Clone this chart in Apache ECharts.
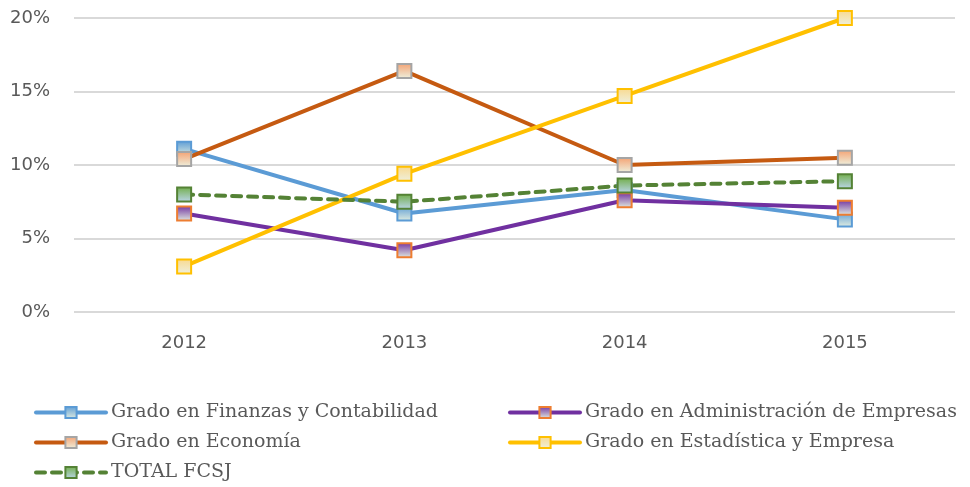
<!DOCTYPE html>
<html>
<head>
<meta charset="utf-8">
<script src="https://cdn.jsdelivr.net/npm/echarts@6/dist/echarts.min.js"></script>
<style>
  html, body { margin: 0; padding: 0; background: #fff; }
  #main { width: 970px; height: 487px; }
</style>
</head>
<body>
<div id="main"></div>
<script>
// datos (porcentaje)
var years = ["2012", "2013", "2014", "2015"];
var finanzas = [11.1, 6.7, 8.3, 6.3];
var administracion = [6.7, 4.2, 7.6, 7.1];
var economia = [10.4, 16.4, 10.0, 10.5];
var estadistica = [3.1, 9.4, 14.7, 20.0];
var totalFcsj = [8.0, 7.5, 8.6, 8.9];
var yTicks = [0, 5, 10, 15, 20];

var myChart = echarts.init(document.getElementById("main"));

function grad(top, bottom) {
  return new echarts.graphic.LinearGradient(0, 0, 0, 1, [
    { offset: 0, color: top },
    { offset: 1, color: bottom }
  ]);
}

function serie(name, data, lineColor, border, top, bottom, dashed) {
  return {
    name: name,
    type: "line",
    data: data,
    symbol: "rect",
    symbolSize: 14,
    showAllSymbol: true,
    lineStyle: { color: lineColor, width: 4, type: dashed ? [9, 7] : "solid", cap: "round" },
    itemStyle: { color: grad(top, bottom), borderColor: border, borderWidth: 2 },
    emphasis: { disabled: true }
  };
}

var legendText = { fontFamily: "DejaVu Serif", fontSize: 19, color: "#595959" };
var legendBase = {
  orient: "vertical", top: 403, padding: 0,
  itemWidth: 70, itemHeight: 14, itemGap: 11,
  lineStyle: { width: 4 },
  textStyle: legendText
};

myChart.setOption({
  animation: false,
  grid: { left: 74, right: 15, top: 18, bottom: 175, outerBoundsMode: "none" },
  xAxis: {
    type: "category",
    data: years,
    axisLine: { show: false },
    axisTick: { show: false },
    axisLabel: { color: "#595959", fontSize: 18, fontFamily: "DejaVu Sans", margin: 22 }
  },
  yAxis: {
    type: "value",
    min: yTicks[0],
    max: yTicks[yTicks.length - 1],
    interval: 5,
    axisLabel: {
      color: "#595959", fontSize: 18, fontFamily: "DejaVu Sans", margin: 24,
      formatter: function (v) { return v + "%"; }
    },
    splitLine: { lineStyle: { color: "#d9d9d9", width: 2 } }
  },
  legend: [
    Object.assign({}, legendBase, {
      left: 34,
      data: ["Grado en Finanzas y Contabilidad", "Grado en Economía", "TOTAL FCSJ"]
    }),
    Object.assign({}, legendBase, {
      left: 508,
      data: ["Grado en Administración de Empresas", "Grado en Estadística y Empresa"]
    })
  ],
  series: [
    serie("Grado en Finanzas y Contabilidad", finanzas, "#5B9BD5", "#5B9BD5", "#5B9BD5", "#e4efe0"),
    serie("Grado en Administración de Empresas", administracion, "#7030A0", "#ED7D31", "#7030A0", "#e4efe0"),
    serie("Grado en Economía", economia, "#C55A11", "#A5A5A5", "#F4A070", "#eef2e0"),
    serie("Grado en Estadística y Empresa", estadistica, "#FFC000", "#FFC000", "#F9D98C", "#eef0e0"),
    serie("TOTAL FCSJ", totalFcsj, "#548235", "#548235", "#70AD47", "#BDD7EE", true)
  ]
});
</script>
</body>
</html>
